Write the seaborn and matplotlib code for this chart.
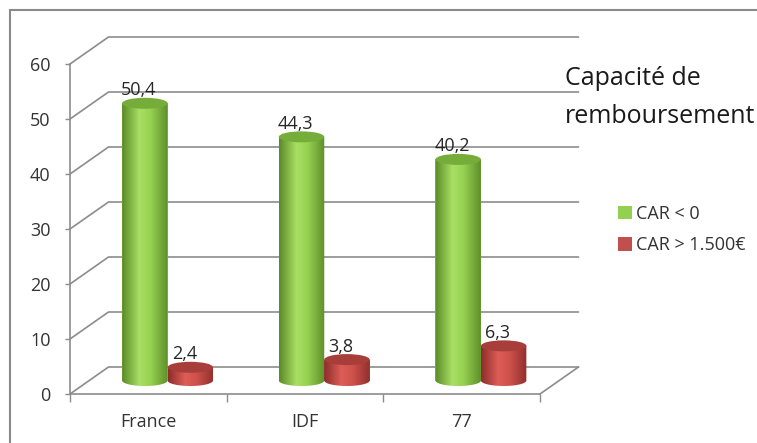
import numpy as np
import pandas as pd
import matplotlib
matplotlib.use("Agg")
import matplotlib.pyplot as plt
import seaborn as sns
from matplotlib.patches import Ellipse, Rectangle, PathPatch
from matplotlib.path import Path
from matplotlib.transforms import Affine2D
from matplotlib.colors import LinearSegmentedColormap

# ---- data ----
categories = ["France", "IDF", "77"]
series = ["CAR < 0", "CAR > 1.500€"]
car_negative = [50.4, 44.3, 40.2]
car_above_1500 = [2.4, 3.8, 6.3]
yticks = [0, 10, 20, 30, 40, 50, 60]
title_lines = ["Capacité de", "remboursement"]

df = pd.DataFrame({
    "Zone": categories * 2,
    "Série": [series[0]] * len(categories) + [series[1]] * len(categories),
    "Valeur": car_negative + car_above_1500,
})

# ---- style ----
sns.set_theme(style="white")
plt.rcParams["font.family"] = ["Open Sans", "DejaVu Sans"]

W, H = 757, 443
fig = plt.figure(figsize=(W / 100, H / 100), dpi=100)
fig.patch.set_facecolor("white")

# front plane axes: x from px 70 to 540, y=0 at px 394, y=60 at px 64
ax = fig.add_axes([70 / W, (H - 394) / H, 470 / W, 330 / H])

green, red = "#92d050", "#c0504d"
sns.barplot(data=df, x="Zone", y="Valeur", hue="Série", palette=[green, red],
            width=0.58, saturation=1, errorbar=None, linewidth=0, ax=ax, zorder=2)

ax.set_xlim(-0.5, 2.5)
ax.set_ylim(0, 60)

# pixel scales -> data units for the 3D depth offsets
px_x = 470 / 3.0
px_y = 330 / 60.0
DXb, DYb = 38.5 / px_x, 27 / px_y       # back wall
DXm, DYm = 19.25 / px_x, 13.5 / px_y     # bars (mid depth)
EH = 11 / px_y                            # ellipse height of cylinder caps

gridc = "#8c8c8c"
# back wall gridlines and floor
for v in yticks:
    ax.plot([-0.5, -0.5 + DXb, 2.5 + DXb], [v, v + DYb, v + DYb],
            color=gridc, lw=1.2, clip_on=False, zorder=0.5)
ax.plot([2.5, 2.5 + DXb], [0, DYb], color=gridc, lw=1.2, clip_on=False, zorder=0.5)

cmaps = [
    LinearSegmentedColormap.from_list("g", [(0, "#5a8a27"), (0.38, "#a8df64"),
                                            (0.62, "#97d251"), (1, "#5e8f2a")]),
    LinearSegmentedColormap.from_list("r", [(0, "#8c2d2a"), (0.38, "#de5d58"),
                                            (0.62, "#cf514c"), (1, "#902f2c")]),
]
top_colors = ["#76ad3a", "#a73e3a"]
shift = Affine2D().translate(DXm, DYm) + ax.transData
grad = np.linspace(0, 1, 256)[np.newaxis, :]

for k, cont in enumerate(ax.containers):
    for bar in cont:
        x0, w, h = bar.get_x(), bar.get_width(), bar.get_height()
        cx = x0 + w / 2
        bar.set_transform(shift)
        # cylinder outline: rectangle + rounded bottom
        th = np.linspace(np.pi, 2 * np.pi, 40)
        verts = [(x0, h)] + [(cx + w / 2 * np.cos(t), EH / 2 * np.sin(t)) for t in th] \
            + [(x0 + w, h), (x0, h)]
        clip = PathPatch(Path(verts), transform=shift)
        im = ax.imshow(grad, cmap=cmaps[k], extent=(x0, x0 + w, -EH / 2, h),
                       aspect="auto", transform=shift, zorder=2.1 + k * 0.01,
                       interpolation="bicubic")
        im.set_clip_path(clip)
        ax.add_patch(Ellipse((cx, h), w, EH, transform=shift, fc=top_colors[k],
                             ec="none", zorder=2.15 + k * 0.01))
        ax.annotate(f"{h:.1f}".replace(".", ","), xy=(cx, h), xycoords=shift,
                    xytext=(-6, 13), textcoords="offset pixels", ha="center",
                    va="center", fontsize=13, color="#262626", zorder=3)

ax.set_xlim(-0.5, 2.5)
ax.set_ylim(0, 60)
ax.set_xlabel("")
ax.set_ylabel("")
ax.set_facecolor("none")
ax.grid(False)

for s in ["top", "right"]:
    ax.spines[s].set_visible(False)
for s in ["left", "bottom"]:
    ax.spines[s].set_color(gridc)
    ax.spines[s].set_linewidth(1.2)

ax.set_yticks(yticks)
ax.set_xticks(range(len(categories)), categories)
ax.set_xticks([-0.5, 0.5, 1.5, 2.5], minor=True)
ax.tick_params(axis="y", left=True, length=3.6, width=1, color=gridc, pad=10.5,
               labelsize=13, labelcolor="#333333")
ax.tick_params(axis="x", which="major", bottom=True, length=0, pad=13.5,
               labelsize=13, labelcolor="#333333")
ax.tick_params(axis="x", which="minor", bottom=True, length=5.8, width=1, color=gridc)

# legend
old = ax.get_legend()
handles = old.legend_handles
labels = [t.get_text() for t in old.get_texts()]
old.remove()
ax.legend(handles, labels, loc="center left", bbox_to_anchor=(618 / W, 1 - 229.5 / H),
          bbox_transform=fig.transFigure, frameon=False, fontsize=13,
          handlelength=0.75, handleheight=0.75, handletextpad=0.25,
          labelspacing=0.75, borderpad=0, borderaxespad=0,
          labelcolor="#333333")

# title
fig.text(565 / W, 1 - 85 / H, title_lines[0], fontsize=18, va="baseline",
         ha="left", color="#1a1a1a")
fig.text(565 / W, 1 - 123 / H, title_lines[1], fontsize=18, va="baseline",
         ha="left", color="#1a1a1a")

# outer chart border
fig.add_artist(Rectangle((10 / W, -0.1), 1.2, (1 - 10 / H) + 0.1,
                         transform=fig.transFigure, fill=False, ec="#8a8a8a", lw=1.5))

fig.savefig("out.png", dpi=100)
